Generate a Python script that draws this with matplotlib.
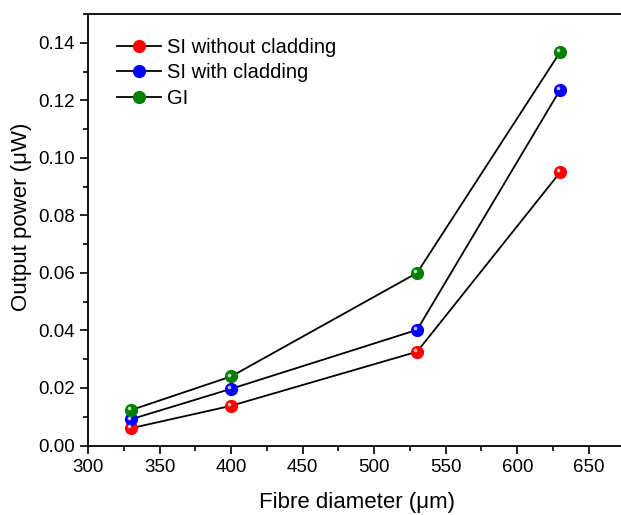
import matplotlib
matplotlib.use("Agg")
import matplotlib.pyplot as plt
import matplotlib.transforms as mtransforms
from matplotlib.ticker import MultipleLocator, AutoMinorLocator
import numpy as np

# fibre diameters (um) and output power (uW) per fibre type
diameter = [330, 400, 530, 630]
si_no_clad = [0.0060, 0.0138, 0.0326, 0.0950]
si_clad = [0.0091, 0.0197, 0.0402, 0.1237]
gi = [0.0123, 0.0240, 0.0600, 0.1368]

labels = ["SI without cladding", "SI with cladding", "GI"]
colors = ["#ff0000", "#0000ff", "#008000"]

plt.rcParams['font.family'] = ['Liberation Sans', 'DejaVu Sans']

fig = plt.figure(figsize=(6.21, 5.15), dpi=100)
# right edge runs just past the figure so the frame is cut off there
ax = fig.add_axes([88/621, 1-445.5/515, 538/621, 431.5/515])

series = [si_no_clad, si_clad, gi]
shine = mtransforms.offset_copy(ax.transData, fig=fig, x=-1.3, y=1.3, units='points')
for vals, lab, c in zip(series, labels, colors):
    ax.plot(diameter, vals, color='black', lw=1.3, marker='o', ms=8.5,
            mfc=c, mec=c, label=lab, zorder=3)
    # small glint on each ball
    ax.plot(diameter, vals, ls='none', marker='o', ms=2.6, mfc='white',
            mec='none', alpha=0.75, transform=shine, zorder=4)

ax.set_xlim(300, 676)
ax.set_ylim(0, 0.15)
ax.xaxis.set_major_locator(MultipleLocator(50))
ax.xaxis.set_minor_locator(AutoMinorLocator(2))
ax.yaxis.set_major_locator(MultipleLocator(0.02))
ax.yaxis.set_minor_locator(AutoMinorLocator(2))
ax.yaxis.set_major_formatter(plt.FuncFormatter(lambda v, p: f"{v:.2f}"))

ax.tick_params(which='major', direction='out', length=6, width=1.2, labelsize=13.5)
ax.tick_params(which='minor', direction='out', length=3.5, width=1.2)
for s in ax.spines.values():
    s.set_linewidth(1.3)

ax.set_xlabel("Fibre diameter (\u03bcm)", fontsize=16, labelpad=12)
ax.set_ylabel("Output power (\u03bcW)", fontsize=16)
ax.yaxis.set_label_coords(-0.105, 0.53)

ax.legend(loc='upper left', frameon=False, fontsize=14.5, handlelength=2.2,
          handletextpad=0.3, labelspacing=0.32, borderpad=0, borderaxespad=0,
          bbox_to_anchor=(0.054, 0.945))

fig.savefig("out.png", dpi=100)
